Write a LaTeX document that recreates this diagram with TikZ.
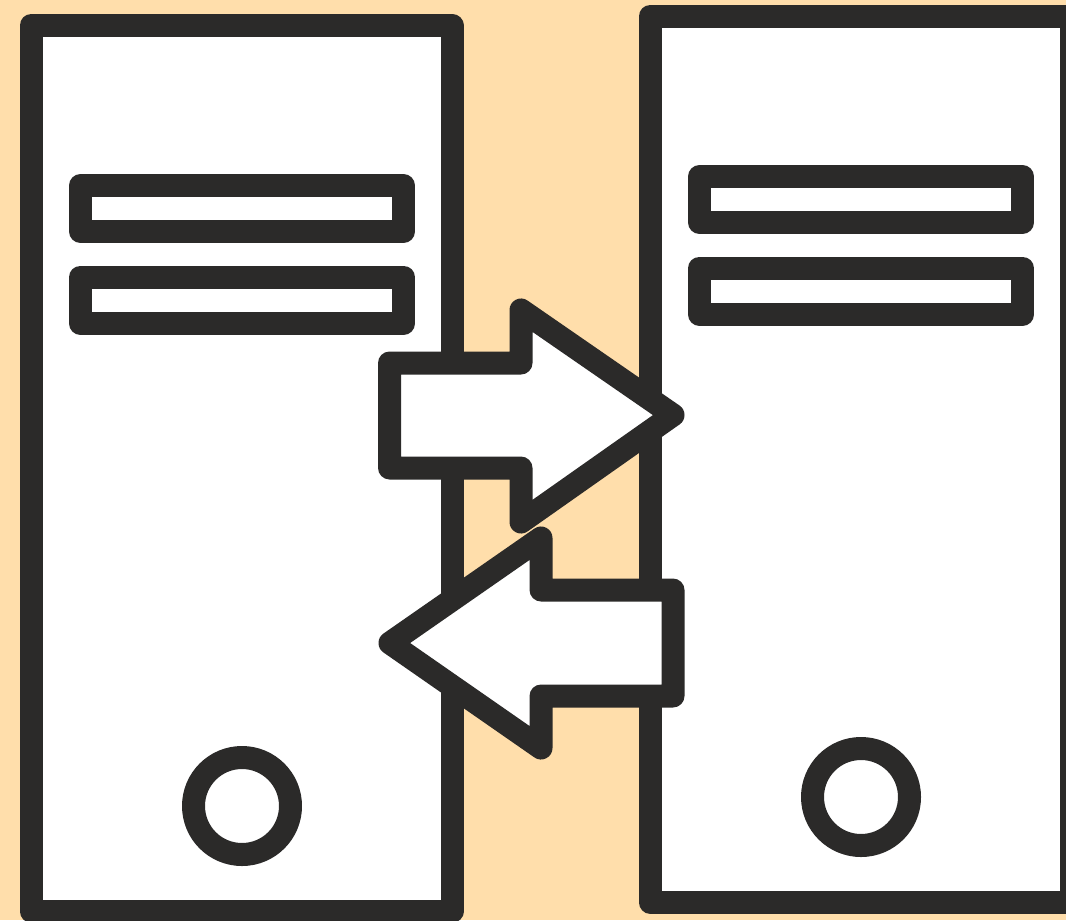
\documentclass[tikz,border=0pt]{standalone}
\definecolor{bgpeach}{HTML}{FFDEAB}
\definecolor{darkline}{HTML}{2B2A29}
\tikzset{
    outline/.style={draw=darkline, fill=white, line width=0.23cm, line join=round},
}
\begin{document}
\begin{tikzpicture}
    \useasboundingbox (0,0) rectangle (10.66,9.2);
    \fill[bgpeach] (0,0) rectangle (10.66,9.2);
    % the two towers
    \foreach \dx/\dy in {0/0, 6.19/0.09} {
        \begin{scope}[xshift=\dx cm, yshift=\dy cm]
            \draw[outline] (0.31,0.09) rectangle (4.52,8.945);
            \draw[outline] (0.805,6.885) rectangle (4.035,7.345);
            \draw[outline] (0.805,5.965) rectangle (4.035,6.43);
            \draw[outline] (2.42,1.14) circle (0.485);
        \end{scope}
    }
    % arrow to the right
    \draw[outline] (3.895,5.57) -- (5.21,5.57) -- (5.21,6.10) -- (6.73,5.05)
        -- (5.21,3.98) -- (5.21,4.52) -- (3.895,4.52) -- cycle;
    % arrow to the left
    \draw[outline] (6.73,3.30) -- (5.41,3.30) -- (5.41,3.82) -- (3.90,2.77)
        -- (5.41,1.72) -- (5.41,2.24) -- (6.73,2.24) -- cycle;
\end{tikzpicture}
\end{document}
